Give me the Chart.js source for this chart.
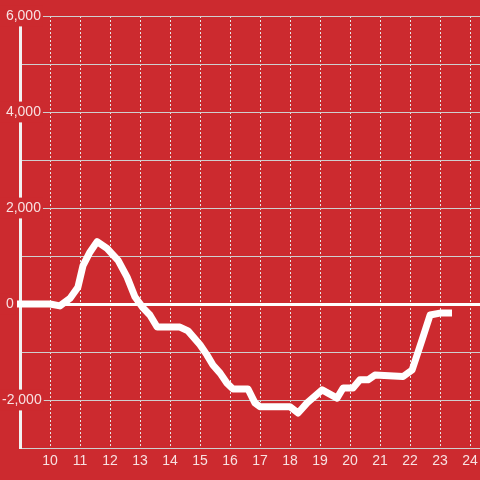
<!DOCTYPE html>
<html lang="en">
<head>
  <meta charset="UTF-8">
  <title>Line chart</title>
  <script src="https://cdn.jsdelivr.net/npm/chart.js"></script>
  <style>
    html,body{margin:0;padding:0;background:#cc2a2f;}
    .wrap{width:480px;height:480px;position:relative;}
  </style>
</head>
<body>
  <div class="wrap"><canvas id="chart"></canvas></div>

  <script>
    /* ——— DATA ——— */
    const hours  = [8.8,10,10.33,10.67,10.93,11.1,11.33,11.57,11.9,12.27,12.57,12.83,13.1,13.33,13.57,14.33,14.6,15.0,15.23,15.43,15.67,15.9,16.1,16.6,16.83,17.0,18.0,18.27,18.57,19.07,19.57,19.77,20.1,20.33,20.6,20.83,21.77,22.07,22.4,22.67,23.0,23.4];
    const values = [0,0,-40,120,350,800,1080,1300,1160,910,560,150,-80,-230,-480,-480,-560,-850,-1060,-1270,-1440,-1650,-1770,-1770,-2060,-2140,-2140,-2270,-2060,-1790,-1960,-1750,-1750,-1580,-1580,-1480,-1510,-1375,-750,-230,-190,-190];
    const xTicks = [10,11,12,13,14,15,16,17,18,19,20,21,22,23,24];
    const yMin = -3000, yMax = 6000, yStep = 1000;

    const BG = '#cc2a2f';
    const LABEL = 'rgba(255,255,255,0.86)';

    Chart.defaults.font.family = '"Liberation Sans", Arial, sans-serif';
    Chart.defaults.font.size = 14;

    // labels hang left of the axis line; negatives start a bit further out
    function yLabel(v){
      if (v % 2000 !== 0) return '';
      const s = v.toLocaleString('en-US');
      return v < 0 ? s : ' ' + s;
    }

    new Chart(document.getElementById('chart'), {
      type: 'line',
      data: {
        datasets: [{
          data: hours.map((h, i) => ({x: h, y: values[i]})),
          borderColor: '#ffffff',
          borderWidth: 7,
          borderJoinStyle: 'round',
          pointRadius: 0,
          tension: 0,
          fill: false,
          clip: {left: 3, top: 0, right: 0, bottom: 0}
        }]
      },
      options: {
        responsive: true,
        maintainAspectRatio: false,
        animation: false,
        layout: {padding: {top: 16, right: 0, left: 0, bottom: 0}},
        plugins: {legend: {display: false}, tooltip: {enabled: false}},
        scales: {
          x: {
            type: 'linear',
            min: 9, max: 24.333,
            afterBuildTicks: s => { s.ticks = xTicks.map(v => ({value: v})); },
            afterFit: s => { s.height = 32; s.paddingLeft = 0; s.paddingRight = 0; },
            grid: {color: '#e6e6e6', lineWidth: 1, drawTicks: false},
            border: {display: false, dash: [2, 2]},
            ticks: {color: LABEL, padding: 5, maxRotation: 0, autoSkip: false}
          },
          y: {
            min: yMin, max: yMax,
            afterFit: s => { s.width = 20; },
            grid: {
              drawTicks: false,
              color: c => c.tick && c.tick.value === 0 ? '#ffffff' : '#cfcfcf',
              lineWidth: c => c.tick && c.tick.value === 0 ? 3 : 1
            },
            border: {display: true, color: '#f2f2f2', width: 3},
            ticks: {
              stepSize: yStep,
              color: LABEL,
              mirror: true,
              padding: -18,
              callback: yLabel,
              showLabelBackdrop: c => c.tick.value % 2000 === 0,
              backdropColor: BG,
              backdropPadding: 2
            }
          }
        }
      }
    });
  </script>
</body>
</html>
